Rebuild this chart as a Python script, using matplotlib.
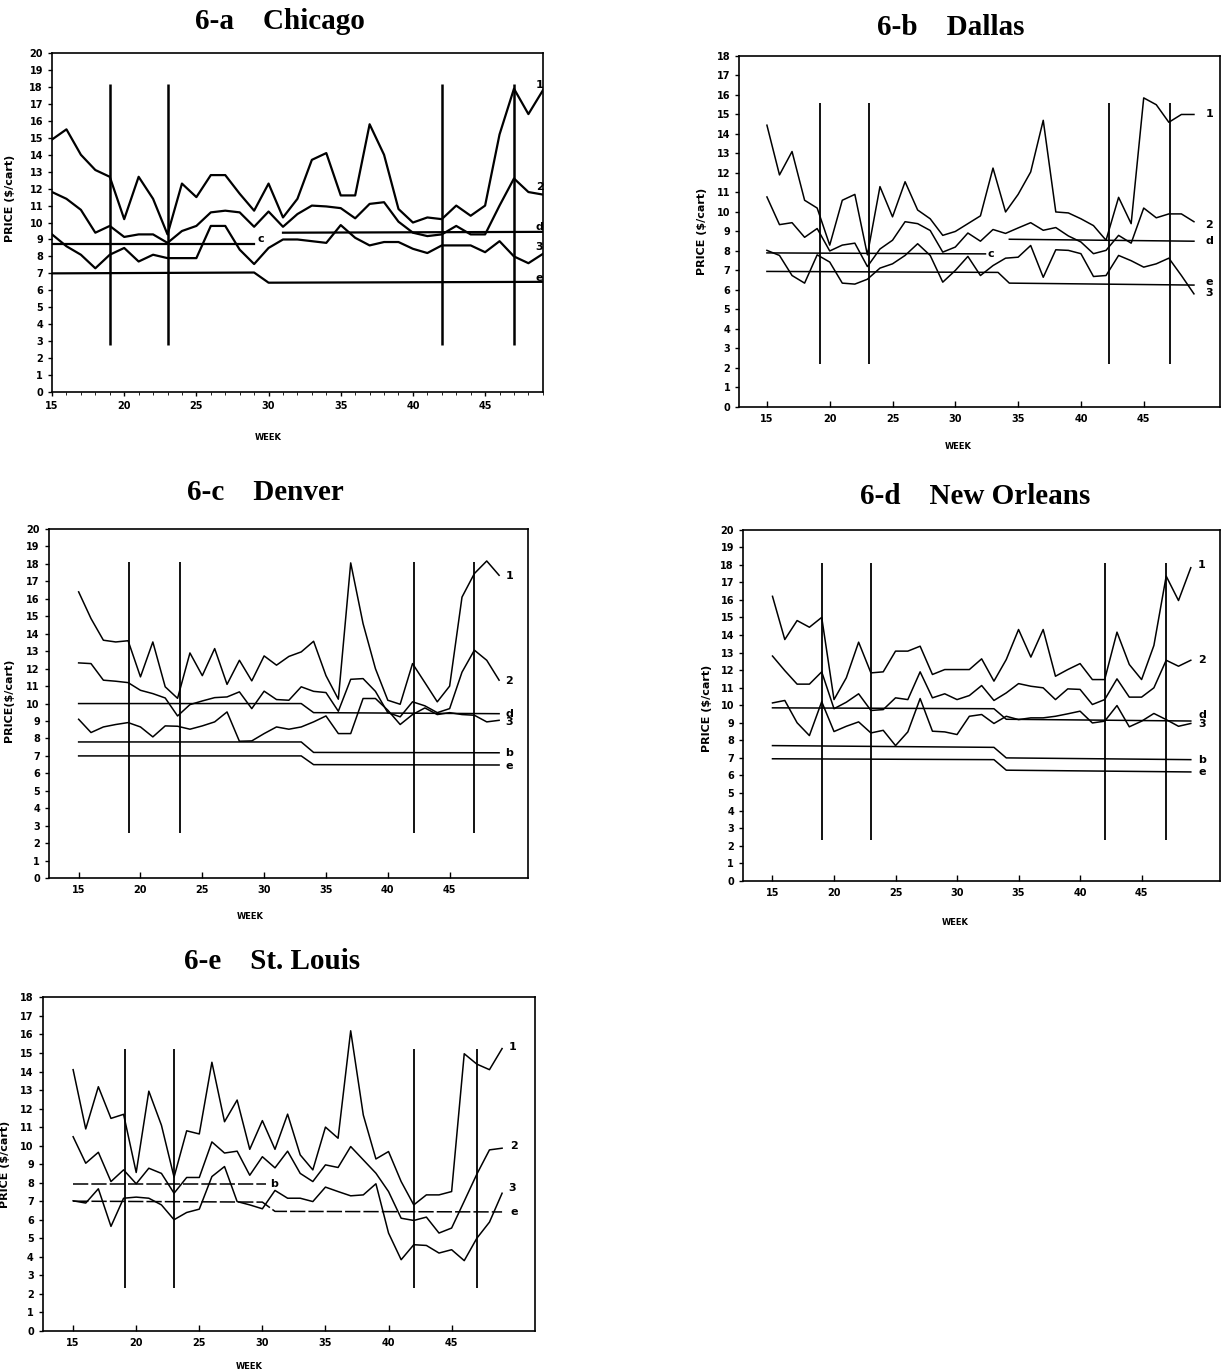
import matplotlib
matplotlib.use("Agg")
import matplotlib.pyplot as plt
from matplotlib.ticker import MultipleLocator

weeks = list(range(15, 50))

# 6-a Chicago
chi_1 = [14.9, 15.5, 14.0, 13.1, 12.7, 10.2, 12.7, 11.4, 9.3, 12.3, 11.5, 12.8, 12.8, 11.7, 10.7,
         12.3, 10.3, 11.4, 13.7, 14.1, 11.6, 11.6, 15.8, 14.0, 10.8, 10.0, 10.3, 10.2, 11.0, 10.4,
         11.0, 15.2, 17.9, 16.4, 17.8]
chi_2 = [11.8, 11.4, 10.75, 9.4, 9.8, 9.15, 9.3, 9.3, 8.8, 9.5, 9.8, 10.6, 10.7, 10.6, 9.75,
         10.65, 9.75, 10.5, 11.0, 10.95, 10.85, 10.25, 11.1, 11.2, 10.05, 9.4, 9.2, 9.3, 9.8, 9.3,
         9.3, 11.0, 12.6, 11.8, 11.65]
chi_3 = [9.3, 8.6, 8.1, 7.3, 8.1, 8.5, 7.7, 8.1, 7.9, 7.9, 7.9, 9.8, 9.8, 8.4, 7.55,
         8.5, 9.0, 9.0, 8.9, 8.8, 9.85, 9.1, 8.65, 8.85, 8.85, 8.45, 8.2, 8.65, 8.65, 8.65,
         8.25, 8.9, 8.0, 7.6, 8.15]
chi_c_x, chi_c_y = [15, 29], [8.75, 8.75]
chi_d_x, chi_d_y = [31, 49], [9.4, 9.45]
chi_e_x, chi_e_y = [15, 29, 30, 49], [7.0, 7.05, 6.45, 6.5]
chi_vweeks = [19, 23, 42, 47]

# 6-b Dallas
dal_1 = [14.45, 11.9, 13.1, 10.6, 10.2, 8.3, 10.6, 10.9, 7.8, 11.3, 9.75, 11.55, 10.1, 9.65, 8.8,
         9.0, 9.4, 9.8, 12.25, 10.0, 10.9, 12.05, 14.7, 10.0, 9.95, 9.65, 9.3, 8.55, 10.75, 9.4,
         15.85, 15.5, 14.6, 15.0, 15.0]
dal_2 = [10.77, 9.35, 9.45, 8.7, 9.15, 8.0, 8.3, 8.4, 7.2, 8.1, 8.55, 9.5, 9.4, 9.05, 7.94,
         8.2, 8.92, 8.5, 9.1, 8.9, 9.18, 9.45, 9.06, 9.2, 8.77, 8.46, 7.86, 8.03, 8.8, 8.4,
         10.2, 9.7, 9.9, 9.9, 9.5]
dal_3 = [8.03, 7.77, 6.74, 6.35, 7.8, 7.43, 6.35, 6.3, 6.55, 7.12, 7.34, 7.77, 8.37, 7.77, 6.4,
         7.0, 7.72, 6.74, 7.25, 7.63, 7.68, 8.28, 6.65, 8.06, 8.03, 7.86, 6.69, 6.74, 7.77, 7.5,
         7.17, 7.34, 7.63, 6.74, 5.8]
dal_c_x, dal_c_y = [15, 32.4], [7.9, 7.85]
dal_d_x, dal_d_y = [34.3, 49], [8.6, 8.5]
dal_e_x, dal_e_y = [15, 33.4, 34.3, 49], [6.95, 6.9, 6.35, 6.25]
dal_vweeks = [19.2, 23.1, 42.2, 47.1]

# 6-c Denver
den_1 = [16.4, 14.87, 13.63, 13.53, 13.6, 11.53, 13.53, 10.96, 10.3, 12.9, 11.6, 13.15, 11.1, 12.48, 11.3,
         12.73, 12.2, 12.7, 12.96, 13.57, 11.6, 10.25, 18.06, 14.58, 12.0, 10.19, 9.96, 12.29, 11.2, 10.1,
         11.0, 16.1, 17.45, 18.17, 17.35]
den_2 = [12.33, 12.29, 11.34, 11.28, 11.2, 10.76, 10.57, 10.32, 9.29, 9.94, 10.15, 10.34, 10.38, 10.67, 9.71,
         10.71, 10.23, 10.19, 10.96, 10.7, 10.63, 9.56, 11.39, 11.43, 10.7, 9.48, 9.24, 10.1, 9.87, 9.48,
         9.71, 11.8, 13.06, 12.48, 11.34]
den_3 = [9.1, 8.34, 8.66, 8.8, 8.91, 8.66, 8.09, 8.72, 8.7, 8.53, 8.72, 8.95, 9.52, 7.84, 7.86,
         8.28, 8.66, 8.53, 8.66, 8.95, 9.29, 8.28, 8.28, 10.29, 10.29, 9.62, 8.8, 9.37, 9.75, 9.37,
         9.48, 9.37, 9.33, 8.95, 9.04]
den_d_x, den_d_y = [15, 33, 34, 49], [10.0, 10.0, 9.48, 9.42]
den_b_x, den_b_y = [15, 33, 34, 49], [7.8, 7.8, 7.2, 7.18]
den_e_x, den_e_y = [15, 33, 34, 49], [7.0, 7.0, 6.5, 6.48]
den_vweeks = [19.1, 23.2, 42.1, 47.0]

# 6-d New Orleans
no_1 = [16.2, 13.74, 14.82, 14.44, 15.0, 10.32, 11.56, 13.59, 11.84, 11.9, 13.08, 13.08, 13.36, 11.75, 12.03,
        12.03, 12.03, 12.64, 11.37, 12.6, 14.31, 12.74, 14.31, 11.65, 12.03, 12.37, 11.46, 11.46, 14.16, 12.32,
        11.46, 13.4, 17.35, 15.96, 17.83]
no_2 = [12.8, 11.97, 11.2, 11.2, 11.9, 9.8, 10.17, 10.65, 9.7, 9.75, 10.42, 10.32, 11.9, 10.42, 10.65,
        10.32, 10.55, 11.12, 10.27, 10.7, 11.23, 11.08, 10.99, 10.32, 10.93, 10.9, 10.04, 10.32, 11.5, 10.46,
        10.46, 10.99, 12.56, 12.22, 12.56]
no_3 = [10.13, 10.27, 9.0, 8.27, 10.2, 8.5, 8.8, 9.05, 8.42, 8.57, 7.7, 8.48, 10.38, 8.52, 8.48,
        8.33, 9.37, 9.47, 8.96, 9.37, 9.18, 9.28, 9.28, 9.37, 9.51, 9.66, 8.99, 9.09, 9.98, 8.77,
        9.09, 9.53, 9.18, 8.8, 8.96]
no_d_x, no_d_y = [15, 33, 34, 49], [9.85, 9.8, 9.2, 9.1]
no_b_x, no_b_y = [15, 33, 34, 49], [7.7, 7.6, 7.0, 6.9]
no_e_x, no_e_y = [15, 33, 34, 49], [6.95, 6.9, 6.3, 6.2]
no_vweeks = [19, 23, 42, 47]

# 6-e St. Louis
stl_1 = [14.1, 10.9, 13.18, 11.47, 11.69, 8.55, 12.94, 11.1, 8.3, 10.8, 10.63, 14.5, 11.29, 12.46, 9.8,
         11.35, 9.8, 11.7, 9.5, 8.69, 11.0, 10.4, 16.2, 11.65, 9.28, 9.68, 8.06, 6.8, 7.34, 7.34,
         7.52, 14.96, 14.4, 14.1, 15.24]
stl_2 = [10.48, 9.05, 9.64, 8.06, 8.69, 7.94, 8.78, 8.5, 7.43, 8.28, 8.28, 10.2, 9.6, 9.7, 8.4,
         9.4, 8.8, 9.7, 8.5, 8.06, 8.96, 8.82, 9.95, 9.23, 8.51, 7.52, 6.08, 5.96, 6.14, 5.28,
         5.55, 7.0, 8.46, 9.77, 9.86]
stl_3 = [7.02, 6.9, 7.67, 5.64, 7.16, 7.22, 7.16, 6.8, 6.0, 6.39, 6.57, 8.33, 8.87, 6.98, 6.8,
         6.59, 7.58, 7.16, 7.16, 6.98, 7.76, 7.52, 7.29, 7.34, 7.94, 5.28, 3.84, 4.65, 4.61, 4.2,
         4.38, 3.79, 5.0, 5.87, 7.43]
stl_b_x, stl_b_y = [15, 30.3], [7.95, 7.95]
stl_e_x, stl_e_y = [15, 30, 31, 49], [7.0, 6.95, 6.45, 6.42]
stl_vweeks = [19.1, 23, 42, 47]


def draw_panel(rect, series, refs, vweeks, vspan, xlim, ymax, labels, lw=1.1, ref_ls="-",
               minor_x=False, xlab_pos=(0.44, -0.11), ylab_pos=(-0.08, 0.5),
               ylabel="PRICE ($/cart)"):
    ax = fig.add_axes(rect)
    for s in series:
        ax.plot(weeks, s, color="black", lw=lw)
    for rx, ry in refs:
        ax.plot(rx, ry, color="black", lw=lw, linestyle=ref_ls)
    ax.vlines(vweeks, vspan[0], vspan[1], color="black", lw=lw + 0.2)
    for txt, (tx, ty) in labels.items():
        ax.text(tx, ty, txt, fontsize=8, fontweight="bold", va="center", ha="left")
    ax.set_xlim(*xlim)
    ax.set_ylim(0, ymax)
    ax.set_xticks([15, 20, 25, 30, 35, 40, 45])
    ax.yaxis.set_major_locator(MultipleLocator(1))
    ax.tick_params(axis="y", labelsize=7, length=3, width=1, direction="out")
    if minor_x:
        ax.xaxis.set_minor_locator(MultipleLocator(1))
        ax.tick_params(axis="x", labelsize=7, length=3, width=1, direction="out")
        ax.tick_params(axis="x", which="minor", length=2, direction="out")
    else:
        ax.tick_params(axis="x", labelsize=7, length=4, width=1, direction="in", pad=5)
    for lab in ax.get_xticklabels() + ax.get_yticklabels():
        lab.set_fontweight("bold")
    for sp in ax.spines.values():
        sp.set_linewidth(1.2)
    ax.set_xlabel("WEEK", fontsize=6, fontweight="bold")
    ax.xaxis.set_label_coords(*xlab_pos)
    ax.set_ylabel(ylabel, fontsize=8, fontweight="bold")
    ax.yaxis.set_label_coords(*ylab_pos)
    return ax


fig = plt.figure(figsize=(12.24, 13.72), dpi=100)

# Chicago
draw_panel([0.0425, 0.7143, 0.401, 0.247], [chi_1, chi_2, chi_3],
           [(chi_c_x, chi_c_y), (chi_d_x, chi_d_y), (chi_e_x, chi_e_y)],
           chi_vweeks, (2.8, 18.2), (15, 49), 20,
           {"1": (48.5, 18.1), "2": (48.5, 12.1), "d": (48.5, 9.75), "3": (48.5, 8.55),
            "e": (48.5, 6.75), "c": (29.2, 9.0)},
           lw=1.6, minor_x=True, xlab_pos=(0.44, -0.12), ylab_pos=(-0.075, 0.57))

# Dallas
draw_panel([0.604, 0.7034, 0.393, 0.2558], [dal_1, dal_2, dal_3],
           [(dal_c_x, dal_c_y), (dal_d_x, dal_d_y), (dal_e_x, dal_e_y)],
           dal_vweeks, (2.2, 15.6), (12.8, 51.1), 18,
           {"1": (49.9, 15.0), "2": (49.9, 9.35), "d": (49.9, 8.5), "e": (49.9, 6.4),
            "3": (49.9, 5.85), "c": (32.6, 7.85)},
           xlab_pos=(0.455, -0.10), ylab_pos=(-0.067, 0.5))

# Denver
draw_panel([0.040, 0.360, 0.391, 0.2544], [den_1, den_2, den_3],
           [(den_d_x, den_d_y), (den_b_x, den_b_y), (den_e_x, den_e_y)],
           den_vweeks, (2.6, 18.1), (12.6, 51.3), 20,
           {"1": (49.5, 17.3), "2": (49.5, 11.3), "d": (49.5, 9.42), "3": (49.5, 8.95),
            "b": (49.5, 7.18), "e": (49.5, 6.45)},
           xlab_pos=(0.42, -0.097), ylab_pos=(-0.073, 0.51), ylabel="PRICE($/cart)")

# New Orleans
draw_panel([0.607, 0.358, 0.390, 0.256], [no_1, no_2, no_3],
           [(no_d_x, no_d_y), (no_b_x, no_b_y), (no_e_x, no_e_y)],
           no_vweeks, (2.3, 18.1), (12.6, 51.4), 20,
           {"1": (49.6, 18.0), "2": (49.6, 12.6), "d": (49.6, 9.45), "3": (49.6, 8.95),
            "b": (49.6, 6.9), "e": (49.6, 6.2)},
           xlab_pos=(0.444, -0.105), ylab_pos=(-0.065, 0.49))

# St. Louis
draw_panel([0.035, 0.030, 0.402, 0.243], [stl_1, stl_2, stl_3],
           [(stl_b_x, stl_b_y), (stl_e_x, stl_e_y)],
           stl_vweeks, (2.3, 15.2), (12.6, 51.6), 18,
           {"1": (49.5, 15.3), "2": (49.6, 10.0), "3": (49.5, 7.7), "e": (49.7, 6.4),
            "b": (30.6, 7.95)},
           ref_ls=(0, (10, 2)), xlab_pos=(0.42, -0.093), ylab_pos=(-0.067, 0.5))

title_kw = dict(fontsize=21, fontweight="bold", family="Liberation Serif", ha="center", va="center")
fig.text(0.229, 0.984, "6-a    Chicago", **title_kw)
fig.text(0.777, 0.980, "6-b    Dallas", **title_kw)
fig.text(0.2165, 0.641, "6-c    Denver", **title_kw)
fig.text(0.797, 0.638, "6-d    New Orleans", **title_kw)
fig.text(0.222, 0.299, "6-e    St. Louis", **title_kw)

fig.savefig("out.png", dpi=100)
